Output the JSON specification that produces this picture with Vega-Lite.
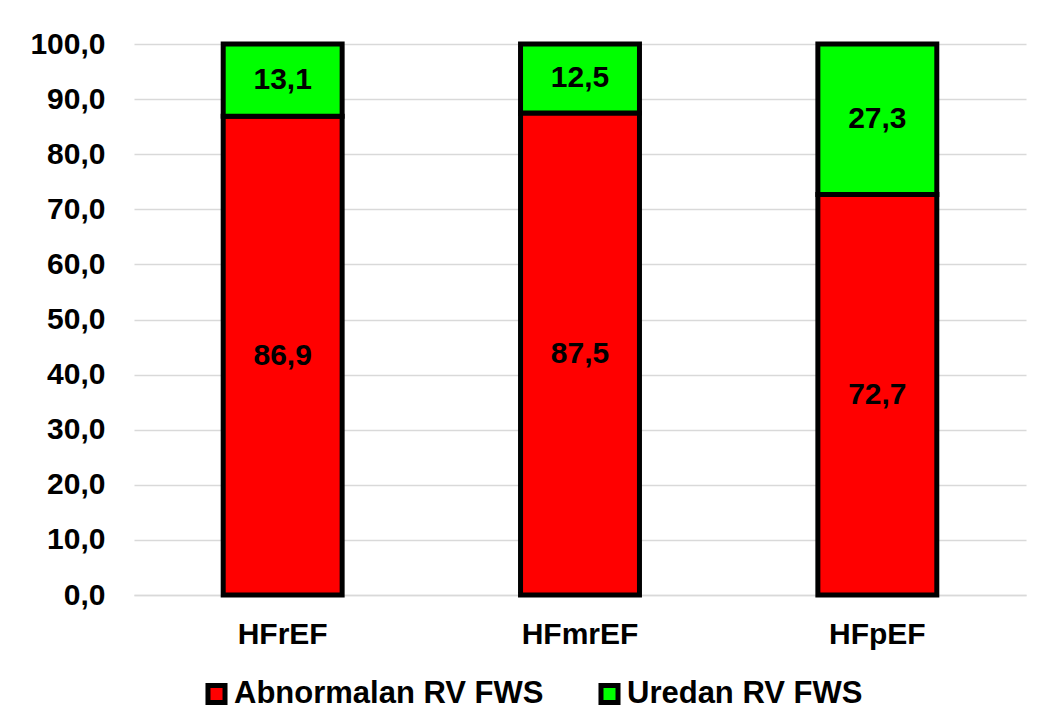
{
  "$schema": "https://vega.github.io/schema/vega-lite/v6.json",
  "autosize": "none",
  "width": 892,
  "height": 551,
  "padding": {"left": 134, "top": 44, "right": 15, "bottom": 132},
  "background": "white",
  "config": {
    "locale": {"number": {"decimal": ",", "thousands": ".", "grouping": [3], "currency": ["", ""]}},
    "font": "Liberation Sans",
    "view": {"stroke": null}
  },
  "data": {
    "values": [
      {"grupa": "HFrEF", "kategorija": "Abnormalan RV FWS", "vrijednost": 86.9, "red": 1},
      {"grupa": "HFrEF", "kategorija": "Uredan RV FWS", "vrijednost": 13.1, "red": 2},
      {"grupa": "HFmrEF", "kategorija": "Abnormalan RV FWS", "vrijednost": 87.5, "red": 1},
      {"grupa": "HFmrEF", "kategorija": "Uredan RV FWS", "vrijednost": 12.5, "red": 2},
      {"grupa": "HFpEF", "kategorija": "Abnormalan RV FWS", "vrijednost": 72.7, "red": 1},
      {"grupa": "HFpEF", "kategorija": "Uredan RV FWS", "vrijednost": 27.3, "red": 2}
    ]
  },
  "transform": [
    {"stack": "vrijednost", "groupby": ["grupa"], "sort": [{"field": "red", "order": "ascending"}], "as": ["y0", "y1"]},
    {"calculate": "(datum.y0 + datum.y1) / 2", "as": "ymid"}
  ],
  "encoding": {
    "x": {
      "field": "grupa", "type": "nominal", "sort": ["HFrEF", "HFmrEF", "HFpEF"], "title": null,
      "scale": {"paddingInner": 0.6, "paddingOuter": 0.3},
      "axis": {"labelAngle": 0, "labelFont": "Liberation Sans", "labelFontWeight": "bold", "labelFontSize": 30, "labelColor": "black", "labelPadding": 24, "ticks": false, "domainColor": "#d9d9d9", "domainWidth": 1.5}
    }
  },
  "layer": [
    {
      "mark": {"type": "bar", "stroke": "black", "strokeWidth": 5},
      "encoding": {
        "y": {
          "field": "y0", "type": "quantitative", "title": null,
          "scale": {"domain": [0, 100], "nice": false},
          "axis": {"values": [0, 10, 20, 30, 40, 50, 60, 70, 80, 90, 100], "format": ".1f", "labelFont": "Liberation Sans", "labelFontWeight": "bold", "labelFontSize": 30, "labelColor": "black", "labelPadding": 29, "ticks": false, "domain": false, "gridColor": "#d9d9d9", "gridWidth": 1.5}
        },
        "y2": {"field": "y1"},
        "color": {
          "field": "kategorija", "type": "nominal",
          "scale": {"domain": ["Abnormalan RV FWS", "Uredan RV FWS"], "range": ["#ff0000", "#00ff00"]},
          "legend": {
            "title": null, "orient": "none", "direction": "horizontal", "legendX": 67, "legendY": 634,
            "symbolType": "square", "symbolSize": 290, "symbolStrokeColor": "black", "symbolStrokeWidth": 5,
            "labelFont": "Liberation Sans", "labelFontWeight": "bold", "labelFontSize": 31, "labelColor": "black",
            "labelOffset": 2, "labelLimit": 600, "columnPadding": 46, "symbolOpacity": 1
          }
        }
      }
    },
    {
      "mark": {"type": "text", "font": "Liberation Sans", "fontWeight": "bold", "fontSize": 30, "color": "black", "baseline": "middle"},
      "encoding": {
        "y": {"field": "ymid", "type": "quantitative"},
        "text": {"field": "vrijednost", "type": "quantitative", "format": ".1f"}
      }
    }
  ]
}
